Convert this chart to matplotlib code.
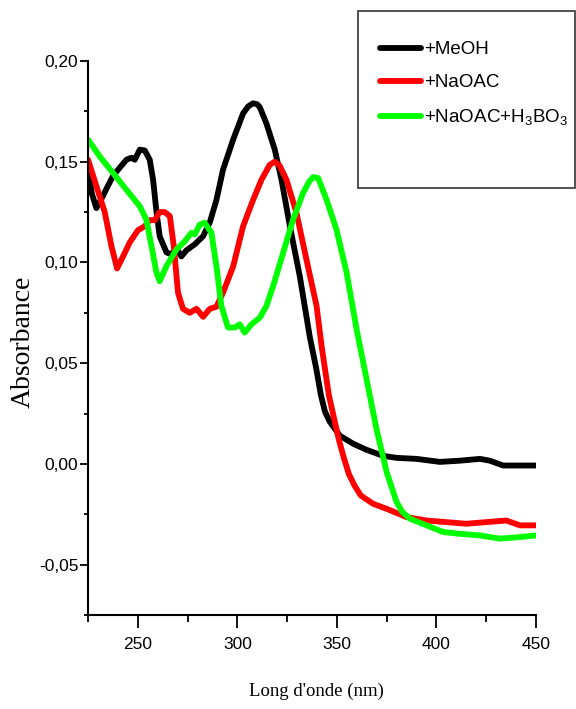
import matplotlib
matplotlib.use("Agg")
import matplotlib.pyplot as plt
from matplotlib.ticker import MultipleLocator, FuncFormatter
from matplotlib.patches import Rectangle

# UV spectra of the sample with shift reagents
wl_meoh = [225, 227, 229.2, 232.5, 235, 237.6, 240.9, 244.3, 246.8, 248.5, 251, 253.5,
           256, 257.7, 259.4, 261, 264.4, 266.9, 269.4, 271.9, 274.4, 278.6, 282.8, 286.2,
           289.5, 292.8, 297.9, 302.9, 305.5, 307.9, 310, 311.3, 314.6, 318.8, 322.2,
           326.4, 331.4, 336.4, 339.5, 342, 344, 346.4, 351.5, 358.2, 364.9, 373.2, 380,
           390, 401.7, 411.8, 421.8, 426.8, 433.5, 441.9, 450]
abs_meoh = [0.146, 0.134, 0.127, 0.133, 0.138, 0.143, 0.147, 0.151, 0.152, 0.151, 0.156,
            0.1556, 0.151, 0.141, 0.125, 0.113, 0.105, 0.104, 0.107, 0.103, 0.106, 0.109,
            0.113, 0.120, 0.131, 0.146, 0.161, 0.174, 0.1775, 0.179, 0.1785, 0.177,
            0.169, 0.156, 0.141, 0.118, 0.093, 0.063, 0.048, 0.034, 0.026, 0.021, 0.014,
            0.010, 0.007, 0.004, 0.003, 0.0025, 0.001, 0.0016, 0.0025, 0.0016, -0.0008,
            -0.0008, -0.0008]

wl_naoac = [225, 229.2, 233.4, 236.8, 239.6, 242.6, 246, 250.1, 253.5, 256, 258.5, 261,
            263.5, 266.1, 268.1, 270.2, 272.7, 276.1, 279.5, 282.8, 286.2, 289.5, 292.8,
            297.9, 302.9, 307.9, 312.1, 316.3, 318.8, 321.3, 324.7, 329.7, 334.7, 339.8,
            342.3, 346, 351, 353.5, 356, 359, 362, 368.2, 375, 385, 395, 405, 415, 425,
            435, 442, 450]
abs_naoac = [0.151, 0.138, 0.125, 0.108, 0.097, 0.103, 0.110, 0.116, 0.118, 0.121, 0.121,
             0.125, 0.125, 0.123, 0.108, 0.085, 0.077, 0.075, 0.077, 0.073, 0.077, 0.078,
             0.085, 0.098, 0.118, 0.131, 0.141, 0.1485, 0.150, 0.148, 0.141, 0.1246,
             0.1015, 0.0784, 0.0586, 0.034, 0.012, 0.003, -0.005, -0.011, -0.0157,
             -0.0198, -0.0223, -0.0264, -0.0281, -0.0289, -0.0297, -0.0289, -0.0281,
             -0.0305, -0.0305]

wl_borate = [225, 230.9, 237.6, 244.3, 251, 254.3, 256.9, 259.4, 261, 264.4, 269.4, 273.6,
             276.9, 278.6, 281.1, 283.6, 287, 289.5, 292, 295.3, 298.7, 301.2, 303.7, 307.1,
             311.3, 314.6, 318, 323, 328, 333, 336, 338.1, 340.6, 344.8, 349.8, 354.9,
             359.9, 364.9, 369.9, 375, 380, 383, 386.7, 395, 403.4, 411.8, 421.8, 431.9,
             441.9, 450]
abs_borate = [0.161, 0.1526, 0.1444, 0.1361, 0.1279, 0.1213, 0.108, 0.0949, 0.0907, 0.0982,
              0.1064, 0.1105, 0.1147, 0.1139, 0.1188, 0.1197, 0.1147, 0.0982, 0.0784,
              0.0677, 0.0677, 0.0693, 0.0652, 0.0693, 0.0726, 0.0784, 0.0883, 0.1048,
              0.1213, 0.1345, 0.1400, 0.1424, 0.1419, 0.1312, 0.1163, 0.0949, 0.0668,
              0.0421, 0.0173, -0.0041, -0.019, -0.0240, -0.0272, -0.0305, -0.0338,
              -0.0347, -0.0355, -0.0371, -0.0363, -0.0355]

labels = ["+MeOH", "+NaOAC", "+NaOAC+H$_3$BO$_3$"]
colors = ["#000000", "#ff0000", "#00ff00"]

x_ticks = [250, 300, 350, 400, 450]
y_ticks = [-0.05, 0.00, 0.05, 0.10, 0.15, 0.20]

sans = ["Liberation Sans", "DejaVu Sans"]
serif = ["Liberation Serif", "DejaVu Serif"]
plt.rcParams["mathtext.fontset"] = "custom"
plt.rcParams["mathtext.rm"] = "Liberation Sans"
plt.rcParams["mathtext.it"] = "Liberation Sans"

fig = plt.figure(figsize=(5.76, 7.09), dpi=100)
ax = fig.add_axes([88 / 576, 1 - 615 / 709, 448 / 576, 554 / 709])

series = [(wl_meoh, abs_meoh), (wl_naoac, abs_naoac), (wl_borate, abs_borate)]
handles = []
for (x, y), c, lab in zip(series, colors, labels):
    h, = ax.plot(x, y, color=c, lw=4.2, solid_capstyle="round",
                 solid_joinstyle="round", label=lab)
    handles.append(h)

ax.set_xlim(225, 450)
ax.set_ylim(-0.075, 0.20)
ax.set_xticks(x_ticks)
ax.set_yticks(y_ticks)
ax.xaxis.set_minor_locator(MultipleLocator(25))
ax.yaxis.set_minor_locator(MultipleLocator(0.025))
ax.yaxis.set_major_formatter(FuncFormatter(lambda v, p: f"{v:.2f}".replace(".", ",")))

for s in ["top", "right"]:
    ax.spines[s].set_visible(False)
for s in ["left", "bottom"]:
    ax.spines[s].set_linewidth(1.5)

ax.tick_params(axis="x", which="major", length=9, width=1.3, pad=7)
ax.tick_params(axis="x", which="minor", length=5, width=1.3)
ax.tick_params(axis="y", which="major", length=6, width=1.3, pad=1)
ax.tick_params(axis="y", which="minor", length=3, width=1.3)
for lab in ax.get_xticklabels() + ax.get_yticklabels():
    lab.set_family(sans)
    lab.set_fontsize(12.5)

ax.set_ylabel("Absorbance", family=serif, fontsize=20)
ax.yaxis.set_label_coords(-0.145, 0.493)
ax.set_xlabel("Long d'onde (nm)", family=serif, fontsize=13.5)
ax.xaxis.set_label_coords(0.509, -0.137)
ax.xaxis.label.set_va("center")
ax.yaxis.label.set_va("center")

# legend box
fig.patches.append(Rectangle((358 / 576, 1 - 188 / 709), 217 / 576, 177 / 709,
                             transform=fig.transFigure, fill=False,
                             edgecolor="#333333", lw=1.2))
fig.legend(handles, labels, loc="upper left",
           bbox_to_anchor=(380 / 576, 1 - 41 / 709),
           bbox_transform=fig.transFigure, frameon=False,
           prop={"family": sans, "size": 13.5}, handlelength=2.2,
           handletextpad=0.15, labelspacing=0.85, borderpad=0, borderaxespad=0)

fig.savefig("out.png", dpi=100)
